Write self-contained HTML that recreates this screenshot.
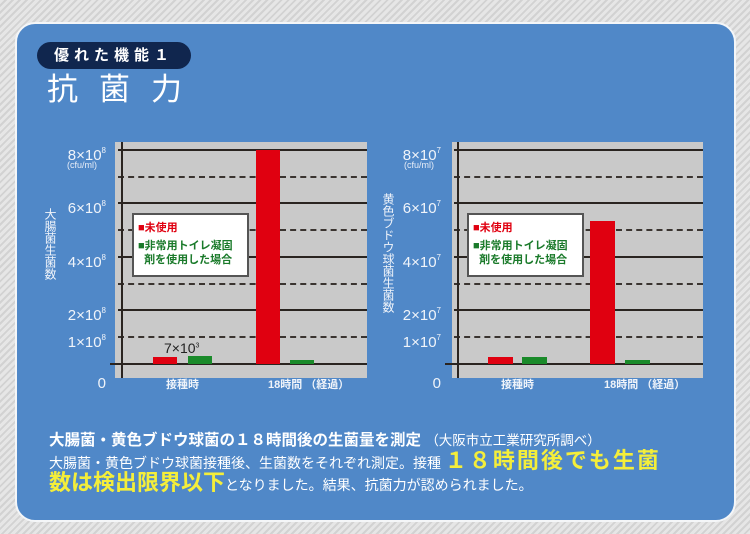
<!DOCTYPE html><html><head><meta charset="utf-8"><style>
*{margin:0;padding:0;box-sizing:border-box}
body{width:750px;height:534px;position:relative;overflow:hidden;font-family:"Liberation Sans","Noto Sans CJK JP",sans-serif;
background:repeating-linear-gradient(135deg,#e6e6e6 0 3px,#d2d2d2 3px 5px);}
.a{position:absolute}
#panel{left:15px;top:22px;width:721px;height:500px;background:#5088c8;border:2px solid #f4f6f8;border-radius:20px}
.plot{background:#c9c9c9}
.hl{position:absolute;height:2px;background:#2a2420}
.dl{position:absolute;height:0;border-top:2px dashed #3a3430}
.tk{position:absolute;color:#f0f4fa;font-size:15px;text-align:right;width:62px;line-height:15px}
.tk sup{font-size:8px;vertical-align:7px}
.lg{position:absolute;background:#fff;border:2px solid #555;width:117px;height:64px;font-size:11px;font-weight:bold;line-height:14px;padding:6px 4px}
.xl{position:absolute;color:#f0f4fa;font-size:11px;font-weight:bold;top:376px}
.vt{position:absolute;color:#f0f4fa;font-size:12px;writing-mode:vertical-rl;letter-spacing:0px}
</style></head><body>
<div id="panel" class="a"></div>
<div class="a" style="left:37px;top:42px;width:154px;height:27px;background:#10264e;border-radius:14px;color:#fff;font-size:15px;font-weight:bold;line-height:27px;padding-left:17px;letter-spacing:5px">優れた機能１</div>
<div class="a" style="left:47px;top:72px;color:#fff;font-size:31px;letter-spacing:21px;line-height:36px">抗菌力</div>

<!-- chart 1 -->
<div class="a plot" style="left:115px;top:142px;width:252px;height:236px"></div>
<div class="hl" style="left:118px;top:149px;width:249px"></div>
<div class="dl" style="left:118px;top:176px;width:249px"></div>
<div class="hl" style="left:118px;top:202px;width:249px"></div>
<div class="dl" style="left:118px;top:229px;width:249px"></div>
<div class="hl" style="left:118px;top:256px;width:249px"></div>
<div class="dl" style="left:118px;top:283px;width:249px"></div>
<div class="hl" style="left:118px;top:309px;width:249px"></div>
<div class="dl" style="left:118px;top:336px;width:249px"></div>
<div class="hl" style="left:110px;top:363px;width:257px"></div>
<div class="a" style="left:121px;top:142px;width:2px;height:236px;background:#2a2420"></div>
<div class="a" style="left:153px;top:357px;width:24px;height:7px;background:#e00010"></div>
<div class="a" style="left:188px;top:356px;width:24px;height:8px;background:#1a8a2a"></div>
<div class="a" style="left:256px;top:150px;width:24px;height:214px;background:#e00010"></div>
<div class="a" style="left:290px;top:360px;width:24px;height:4px;background:#1a8a2a"></div>
<div class="a" style="left:164px;top:340px;font-size:14px;color:#222">7×10<sup style="font-size:7px">3</sup></div>
<div class="lg" style="left:132px;top:213px"><span style="color:#e00010">■未使用</span><br><span style="color:#1a7a2a;display:block;margin-top:4px">■非常用トイレ凝固<br>&nbsp;&nbsp;剤を使用した場合</span></div>
<div class="tk" style="left:44px;top:143px">8×10<sup>8</sup></div>
<div class="a" style="left:67px;top:160px;color:#e8eef8;font-size:9px">(cfu/ml)</div>
<div class="tk" style="left:44px;top:196px">6×10<sup>8</sup></div>
<div class="tk" style="left:44px;top:250px">4×10<sup>8</sup></div>
<div class="tk" style="left:44px;top:303px">2×10<sup>8</sup></div>
<div class="tk" style="left:44px;top:330px">1×10<sup>8</sup></div>
<div class="tk" style="left:44px;top:376px">0</div>
<div class="vt" style="left:42px;top:208px">大腸菌生菌数</div>
<div class="xl" style="left:166px">接種時</div>
<div class="xl" style="left:268px">18時間 （経過）</div>

<!-- chart 2 -->
<div class="a plot" style="left:452px;top:142px;width:251px;height:236px"></div>
<div class="hl" style="left:454px;top:149px;width:249px"></div>
<div class="dl" style="left:454px;top:176px;width:249px"></div>
<div class="hl" style="left:454px;top:202px;width:249px"></div>
<div class="dl" style="left:454px;top:229px;width:249px"></div>
<div class="hl" style="left:454px;top:256px;width:249px"></div>
<div class="dl" style="left:454px;top:283px;width:249px"></div>
<div class="hl" style="left:454px;top:309px;width:249px"></div>
<div class="dl" style="left:454px;top:336px;width:249px"></div>
<div class="hl" style="left:445px;top:363px;width:258px"></div>
<div class="a" style="left:457px;top:142px;width:2px;height:236px;background:#2a2420"></div>
<div class="a" style="left:488px;top:357px;width:25px;height:7px;background:#e00010"></div>
<div class="a" style="left:522px;top:357px;width:25px;height:7px;background:#1a8a2a"></div>
<div class="a" style="left:590px;top:221px;width:25px;height:143px;background:#e00010"></div>
<div class="a" style="left:625px;top:360px;width:25px;height:4px;background:#1a8a2a"></div>
<div class="lg" style="left:467px;top:213px"><span style="color:#e00010">■未使用</span><br><span style="color:#1a7a2a;display:block;margin-top:4px">■非常用トイレ凝固<br>&nbsp;&nbsp;剤を使用した場合</span></div>
<div class="tk" style="left:379px;top:143px">8×10<sup>7</sup></div>
<div class="a" style="left:404px;top:160px;color:#e8eef8;font-size:9px">(cfu/ml)</div>
<div class="tk" style="left:379px;top:196px">6×10<sup>7</sup></div>
<div class="tk" style="left:379px;top:250px">4×10<sup>7</sup></div>
<div class="tk" style="left:379px;top:303px">2×10<sup>7</sup></div>
<div class="tk" style="left:379px;top:330px">1×10<sup>7</sup></div>
<div class="tk" style="left:379px;top:376px">0</div>
<div class="vt" style="left:380px;top:193px">黄色ブドウ球菌生菌数</div>
<div class="xl" style="left:501px">接種時</div>
<div class="xl" style="left:604px">18時間 （経過）</div>

<!-- text -->
<div class="a" style="left:49px;top:428px;color:#fff;font-size:15.5px;font-weight:bold;white-space:nowrap">大腸菌・黄色ブドウ球菌の１８時間後の生菌量を測定 <span style="font-weight:normal;font-size:13.5px">（大阪市立工業研究所調べ）</span></div>
<div class="a" style="left:49px;top:448px;color:#fff;font-size:14px;white-space:nowrap;line-height:26px">大腸菌・黄色ブドウ球菌接種後、生菌数をそれぞれ測定。接種 <span style="color:#f4ee3a;font-size:22px;font-weight:bold;letter-spacing:2px">１８時間後でも生菌</span></div>
<div class="a" style="left:49px;top:470px;color:#fff;font-size:14px;white-space:nowrap;line-height:26px"><span style="color:#f4ee3a;font-size:22px;font-weight:bold;letter-spacing:0px">数は検出限界以下</span>となりました。結果、抗菌力が認められました。</div>
</body></html>
